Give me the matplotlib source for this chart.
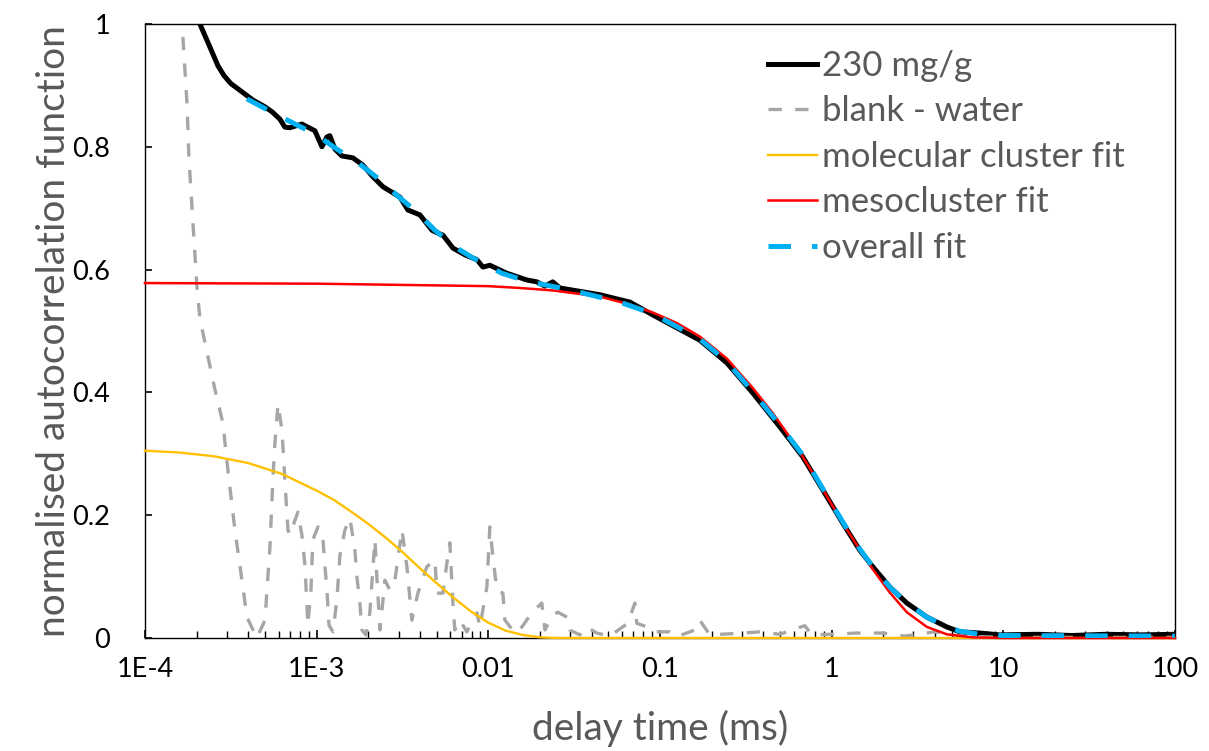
import numpy as np
import matplotlib
matplotlib.use("Agg")
import matplotlib.pyplot as plt
from matplotlib.ticker import FixedLocator, FixedFormatter, LogLocator, NullFormatter

# delay times are kept as log10(ms)
x_ticks = [1e-4, 1e-3, 1e-2, 1e-1, 1, 10, 100]
x_tick_labels = ['1E-4', '1E-3', '0.01', '0.1', '1', '10', '100']
y_ticks = [0, 0.2, 0.4, 0.6, 0.8, 1]
y_tick_labels = ['0', '0.2', '0.4', '0.6', '0.8', '1']

# 230 mg/g measurement
sample_logt = [-3.738, -3.680, -3.621, -3.575, -3.540, -3.500, -3.447, -3.371, -3.301, -3.260,
               -3.214, -3.185, -3.156, -3.086, -3.010, -2.969, -2.940, -2.923, -2.893,
               -2.853, -2.789, -2.730, -2.672, -2.614, -2.515, -2.468, -2.398, -2.328,
               -2.299, -2.264, -2.206, -2.136, -2.066, -2.031, -1.991, -1.892, -1.775,
               -1.717, -1.670, -1.624, -1.583, -1.350, -1.175, -1.041, -0.768, -0.610,
               -0.459, -0.302, -0.168, -0.051, 0.065, 0.164, 0.240, 0.339, 0.438,
               0.555, 0.671, 0.747, 0.863, 0.980, 1.2, 1.4, 1.6, 1.8, 2.0]
sample_g = [1.055, 1.000, 0.962, 0.932, 0.916, 0.903, 0.892, 0.876, 0.865, 0.857,
            0.845, 0.832, 0.831, 0.837, 0.826, 0.800, 0.816, 0.818, 0.796,
            0.785, 0.782, 0.770, 0.751, 0.735, 0.718, 0.697, 0.689, 0.664,
            0.660, 0.656, 0.635, 0.624, 0.616, 0.604, 0.607, 0.594, 0.583,
            0.580, 0.573, 0.580, 0.570, 0.559, 0.547, 0.526, 0.485, 0.448,
            0.399, 0.344, 0.295, 0.241, 0.187, 0.143, 0.116, 0.083, 0.057,
            0.034, 0.018, 0.010, 0.008, 0.005, 0.006, 0.004, 0.006, 0.005, 0.006]

# blank - water
blank_logt = [-3.779, -3.755, -3.744, -3.720, -3.697, -3.680, -3.592, -3.546, -3.517,
              -3.476, -3.435, -3.406, -3.348, -3.301, -3.272, -3.255, -3.243, -3.225,
              -3.202, -3.185, -3.167, -3.156, -3.109, -3.086, -3.068, -3.051, -3.033,
              -3.022, -2.992, -2.963, -2.952, -2.940, -2.928, -2.905, -2.882, -2.864,
              -2.835, -2.806, -2.777, -2.765, -2.748, -2.736, -2.713, -2.690, -2.678,
              -2.660, -2.649, -2.631, -2.602, -2.573, -2.544, -2.503, -2.474, -2.445,
              -2.410, -2.358, -2.311, -2.299, -2.264, -2.241, -2.224, -2.206, -2.195,
              -2.165, -2.125, -2.066, -2.049, -2.008, -1.991, -1.973, -1.950, -1.915,
              -1.903, -1.845, -1.804, -1.746, -1.688, -1.670, -1.624, -1.595, -1.536,
              -1.525, -1.467, -1.426, -1.368, -1.292, -1.187, -1.146, -1.135, -1.076,
              -1.041, -0.942, -0.902, -0.797, -0.768, -0.709, -0.517, -0.418, -0.302,
              -0.156, -0.115, -0.010, 0.147, 0.298, 0.426, 0.601, 0.747, 1.0, 1.5, 2.0]
blank_g = [0.979, 0.870, 0.783, 0.674, 0.571, 0.520, 0.404, 0.350, 0.274,
           0.176, 0.094, 0.034, 0.000, 0.029, 0.148, 0.257, 0.317, 0.381,
           0.339, 0.257, 0.176, 0.168, 0.205, 0.168, 0.119, 0.021, 0.078,
           0.160, 0.181, 0.160, 0.119, 0.078, 0.021, 0.010, 0.062, 0.135,
           0.176, 0.195, 0.143, 0.099, 0.057, 0.013, 0.005, 0.041, 0.090,
           0.160, 0.099, 0.013, 0.094, 0.078, 0.094, 0.176, 0.116, 0.029,
           0.073, 0.116, 0.127, 0.073, 0.073, 0.122, 0.155, 0.057, 0.013,
           0.029, 0.010, 0.041, 0.018, 0.083, 0.181, 0.132, 0.078, 0.073,
           0.029, 0.008, 0.018, 0.041, 0.057, 0.013, 0.037, 0.042, 0.033,
           0.013, 0.005, 0.018, 0.008, 0.003, 0.024, 0.057, 0.024, 0.018,
           0.010, 0.010, 0.002, 0.013, 0.029, 0.005, 0.008, 0.010, 0.006,
           0.020, 0.005, 0.006, 0.008, 0.008, 0.003, 0.010, 0.003, 0.001, 0.001, 0.001]

# molecular cluster fit
molecular_logt = [-4.0, -3.8, -3.6, -3.4, -3.2, -3.0, -2.9, -2.8, -2.7, -2.6, -2.5,
                  -2.4, -2.3, -2.2, -2.1, -2.0, -1.9, -1.8, -1.7, -1.6, 2.0]
molecular_g = [0.305, 0.302, 0.296, 0.285, 0.267, 0.240, 0.225, 0.206, 0.186, 0.164, 0.140,
               0.114, 0.089, 0.065, 0.043, 0.025, 0.012, 0.005, 0.001, 0.000, 0.000]

# mesocluster fit
meso_logt = [-4.0, -3.0, -2.0, -1.816, -1.624, -1.350, -1.175, -1.041, -0.902, -0.768,
             -0.610, -0.459, -0.342, -0.203, -0.051, 0.065, 0.164, 0.240, 0.339, 0.438,
             0.555, 0.671, 0.822, 1.0, 2.0]
meso_g = [0.578, 0.577, 0.573, 0.570, 0.566, 0.556, 0.543, 0.530, 0.513, 0.491,
          0.455, 0.407, 0.366, 0.311, 0.242, 0.187, 0.144, 0.112, 0.074, 0.042,
          0.018, 0.006, 0.001, 0.000, 0.000]

# overall fit
overall_logt = [-3.406, -3.272, -3.126, -3.010, -2.876, -2.759, -2.631, -2.532, -2.410,
                -2.311, -2.183, -2.090, -1.921, -1.775, -1.525, -1.234, -1.041, -0.768,
                -0.610, -0.459, -0.302, -0.168, -0.051, 0.065, 0.164, 0.240, 0.339,
                0.438, 0.555, 0.671, 0.747, 0.863, 0.997, 2.0]
overall_g = [0.878, 0.858, 0.837, 0.821, 0.795, 0.774, 0.746, 0.721, 0.692,
             0.664, 0.635, 0.619, 0.594, 0.581, 0.567, 0.547, 0.528, 0.487,
             0.450, 0.401, 0.347, 0.298, 0.243, 0.189, 0.145, 0.116, 0.083,
             0.057, 0.034, 0.018, 0.011, 0.006, 0.004, 0.003]

plt.rcParams['font.family'] = ['Lato', 'DejaVu Sans']
label_grey = '#595959'

fig = plt.figure(figsize=(12.09, 7.51), dpi=100)
ax = fig.add_axes([0.1199, 0.1505, 0.8519, 0.8176])

ax.plot(10.0 ** np.array(sample_logt), sample_g, color='black', lw=3.6,
        solid_joinstyle='round', label='230 mg/g', zorder=2.6)
ax.plot(10.0 ** np.array(blank_logt), blank_g, color='#a6a6a6', lw=2.4,
        dashes=(4, 4), label='blank - water', zorder=2.7, clip_on=False)
ax.plot(10.0 ** np.array(molecular_logt), molecular_g, color='#ffc000', lw=1.7,
        label='molecular cluster fit', zorder=2.8, clip_on=False)
ax.plot(10.0 ** np.array(meso_logt), meso_g, color='#ff0000', lw=1.8,
        label='mesocluster fit', zorder=2.9, clip_on=False)
ax.plot(10.0 ** np.array(overall_logt), overall_g, color='#00b0f0', lw=3.6,
        dashes=(4.5, 4.2), label='overall fit', zorder=3.0)

ax.set_xscale('log')
ax.set_xlim(1e-4, 100)
ax.set_ylim(0, 1)
ax.xaxis.set_major_locator(FixedLocator(x_ticks))
ax.xaxis.set_major_formatter(FixedFormatter(x_tick_labels))
ax.xaxis.set_minor_locator(LogLocator(base=10, subs=np.arange(2, 10) * 1.0, numticks=20))
ax.xaxis.set_minor_formatter(NullFormatter())
ax.yaxis.set_major_locator(FixedLocator(y_ticks))
ax.yaxis.set_major_formatter(FixedFormatter(y_tick_labels))

ax.tick_params(axis='x', which='major', direction='in', length=6, width=1.2,
               labelsize=19.5, pad=14, top=False)
ax.tick_params(axis='x', which='minor', direction='in', length=5, width=1.0, top=False)
ax.tick_params(axis='y', direction='in', length=5, width=1.2, labelsize=19.5, pad=25,
               right=False)
for s in ax.spines.values():
    s.set_linewidth(1.0)

ax.set_xlabel('delay time (ms)', fontsize=28, color=label_grey, labelpad=20)
ax.set_ylabel('normalised autocorrelation function', fontsize=28, color=label_grey,
              labelpad=0)

leg = ax.legend(loc='upper left', bbox_to_anchor=(0.605, 0.958), frameon=False,
                fontsize=25, handlelength=1.4, handletextpad=0.15, labelspacing=0.39,
                borderpad=0, borderaxespad=0)
for t in leg.get_texts():
    t.set_color(label_grey)

fig.savefig('out.png', dpi=100)
